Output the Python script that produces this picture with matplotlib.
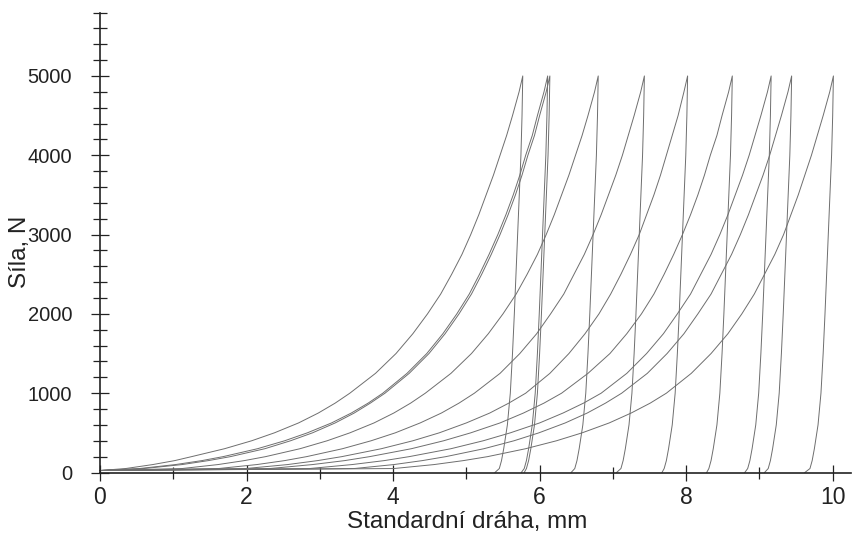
import matplotlib
matplotlib.use("Agg")
import matplotlib.pyplot as plt
import matplotlib.font_manager as fm
from matplotlib.ticker import MultipleLocator

FONT = "Liberation Sans"

# force levels (N) at which x-positions (mm) of the loading branches were read
load_levels = [25, 50, 100, 150, 200, 300, 400, 500, 625, 750, 875, 1000,
               1250, 1500, 1750, 2000, 2250, 2500, 2750, 3000, 3250, 3500,
               3750, 4000, 4250, 4500, 4800, 5000]
load_c1 = [0.00, 0.35, 0.72, 1.02, 1.25, 1.70, 2.07, 2.38, 2.71, 2.98, 3.21, 3.41,
           3.76, 4.04, 4.27, 4.47, 4.65, 4.80, 4.94, 5.06, 5.17, 5.27,
           5.37, 5.46, 5.55, 5.63, 5.72, 5.77]
load_c2 = [0.00, 0.54, 1.03, 1.39, 1.68, 2.15, 2.52, 2.83, 3.16, 3.43, 3.66, 3.86,
           4.19, 4.46, 4.68, 4.87, 5.04, 5.18, 5.31, 5.43, 5.54, 5.64,
           5.73, 5.81, 5.90, 5.97, 6.06, 6.11]
load_c3 = [0.00, 0.60, 1.12, 1.48, 1.78, 2.25, 2.60, 2.90, 3.21, 3.47, 3.69, 3.89,
           4.22, 4.49, 4.71, 4.90, 5.07, 5.21, 5.34, 5.46, 5.57, 5.67,
           5.76, 5.84, 5.93, 6.00, 6.09, 6.14]
load_c4 = [0.00, 1.12, 1.61, 1.97, 2.26, 2.73, 3.10, 3.41, 3.74, 4.01, 4.24, 4.44,
           4.79, 5.07, 5.30, 5.50, 5.68, 5.83, 5.97, 6.09, 6.20, 6.30,
           6.40, 6.49, 6.58, 6.66, 6.75, 6.80]
load_c5 = [0.00, 1.62, 2.14, 2.52, 2.82, 3.31, 3.70, 4.03, 4.37, 4.66, 4.90, 5.11,
           5.46, 5.73, 5.96, 6.15, 6.33, 6.47, 6.61, 6.73, 6.84, 6.94,
           7.04, 7.13, 7.21, 7.29, 7.38, 7.43]
load_c6 = [0.00, 1.99, 2.56, 2.97, 3.30, 3.84, 4.27, 4.63, 5.00, 5.32, 5.58, 5.81,
           6.14, 6.40, 6.62, 6.81, 6.97, 7.11, 7.24, 7.36, 7.46, 7.56,
           7.65, 7.73, 7.81, 7.89, 7.97, 8.02]
load_c7 = [0.00, 2.32, 2.90, 3.34, 3.68, 4.25, 4.69, 5.06, 5.46, 5.78, 6.06, 6.30,
           6.66, 6.96, 7.19, 7.39, 7.56, 7.70, 7.83, 7.95, 8.06, 8.16,
           8.25, 8.33, 8.42, 8.49, 8.58, 8.63]
load_c8 = [0.00, 2.86, 3.44, 3.88, 4.22, 4.79, 5.23, 5.60, 6.00, 6.32, 6.60, 6.84,
           7.19, 7.46, 7.69, 7.88, 8.06, 8.20, 8.34, 8.46, 8.57, 8.67,
           8.77, 8.86, 8.94, 9.02, 9.11, 9.16]
load_c9 = [0.00, 3.47, 4.01, 4.40, 4.72, 5.24, 5.65, 5.99, 6.35, 6.65, 6.90, 7.12,
           7.47, 7.74, 7.97, 8.16, 8.34, 8.48, 8.62, 8.74, 8.85, 8.95,
           9.05, 9.14, 9.22, 9.30, 9.39, 9.44]
load_c10 = [0.00, 4.01, 4.56, 4.96, 5.29, 5.81, 6.23, 6.58, 6.95, 7.25, 7.51, 7.73,
            8.07, 8.34, 8.57, 8.76, 8.93, 9.07, 9.21, 9.33, 9.43, 9.53,
            9.62, 9.71, 9.79, 9.87, 9.96, 10.01]

# force levels (N) at which x-positions of the unloading branches were read
unload_levels = [5000, 4500, 4000, 3000, 2000, 1500, 1000, 600, 300, 150, 50, 0]
unload_c1 = [5.77, 5.76, 5.745, 5.70, 5.655, 5.63, 5.60, 5.56, 5.51, 5.48, 5.45, 5.39]
unload_c2 = [6.11, 6.10, 6.085, 6.04, 5.995, 5.97, 5.94, 5.90, 5.85, 5.82, 5.79, 5.75]
unload_c3 = [6.14, 6.13, 6.115, 6.07, 6.025, 6.00, 5.97, 5.93, 5.88, 5.85, 5.82, 5.79]
unload_c4 = [6.80, 6.79, 6.775, 6.73, 6.685, 6.66, 6.63, 6.59, 6.54, 6.51, 6.48, 6.43]
unload_c5 = [7.43, 7.42, 7.405, 7.36, 7.315, 7.29, 7.26, 7.22, 7.17, 7.14, 7.11, 7.05]
unload_c6 = [8.02, 8.01, 7.995, 7.95, 7.905, 7.88, 7.85, 7.81, 7.76, 7.73, 7.70, 7.67]
unload_c7 = [8.63, 8.62, 8.605, 8.56, 8.515, 8.49, 8.46, 8.42, 8.37, 8.34, 8.31, 8.28]
unload_c8 = [9.16, 9.15, 9.135, 9.09, 9.045, 9.02, 8.99, 8.95, 8.90, 8.87, 8.84, 8.80]
unload_c9 = [9.44, 9.43, 9.415, 9.37, 9.325, 9.30, 9.27, 9.23, 9.18, 9.15, 9.12, 9.07]
unload_c10 = [10.01, 10.00, 9.985, 9.94, 9.895, 9.87, 9.84, 9.80, 9.75, 9.72, 9.69, 9.62]

loads = [load_c1, load_c2, load_c3, load_c4, load_c5, load_c6, load_c7, load_c8, load_c9, load_c10]
unloads = [unload_c1, unload_c2, unload_c3, unload_c4, unload_c5, unload_c6, unload_c7, unload_c8, unload_c9, unload_c10]

x_ticks = [0, 2, 4, 6, 8, 10]
y_ticks = [0, 1000, 2000, 3000, 4000, 5000]
x_title = "Standardní dráha, mm"
y_title = "Síla, N"

fig = plt.figure(figsize=(8.52, 5.41), dpi=100)
ax = fig.add_axes([100 / 852, 68.5 / 541, 751 / 852, 460 / 541])

for lx, ux in zip(loads, unloads):
    ax.plot(lx + ux, load_levels + unload_levels, color="#6e6e6e", lw=0.7,
            clip_on=False, solid_joinstyle="round")

ax.set_xlim(0, 10.25)
ax.set_ylim(0, 5800)
for s in ["top", "right"]:
    ax.spines[s].set_visible(False)
for s in ["left", "bottom"]:
    ax.spines[s].set_color("#222222")
    ax.spines[s].set_linewidth(1.2)

ax.set_xticks(x_ticks)
ax.xaxis.set_minor_locator(MultipleLocator(1))
ax.set_yticks(y_ticks)
ax.yaxis.set_minor_locator(MultipleLocator(200))
ax.tick_params(axis="y", which="major", direction="inout", length=13, width=0.9, color="#222222", pad=13.5)
ax.tick_params(axis="y", which="minor", direction="inout", length=10, width=0.9, color="#222222")
ax.tick_params(axis="x", which="major", direction="inout", length=12, width=0.9, color="#222222", pad=4)
ax.tick_params(axis="x", which="minor", direction="inout", length=9, width=0.9, color="#222222")

for lab in ax.get_yticklabels():
    lab.set_fontfamily(FONT)
    lab.set_fontsize(14.5)
    lab.set_color("#222222")
for lab in ax.get_xticklabels():
    lab.set_fontfamily(FONT)
    lab.set_fontsize(16.5)
    lab.set_color("#222222")

fig.text(467 / 852, 1 - 522 / 541, x_title, fontfamily=FONT, fontsize=17.5,
         color="#222222", ha="center", va="center")
fig.text(20 / 852, 1 - 251.5 / 541, y_title, fontfamily=FONT, fontsize=17.5,
         color="#222222", ha="center", va="center", rotation=90)

fig.savefig("out.png", dpi=100)
